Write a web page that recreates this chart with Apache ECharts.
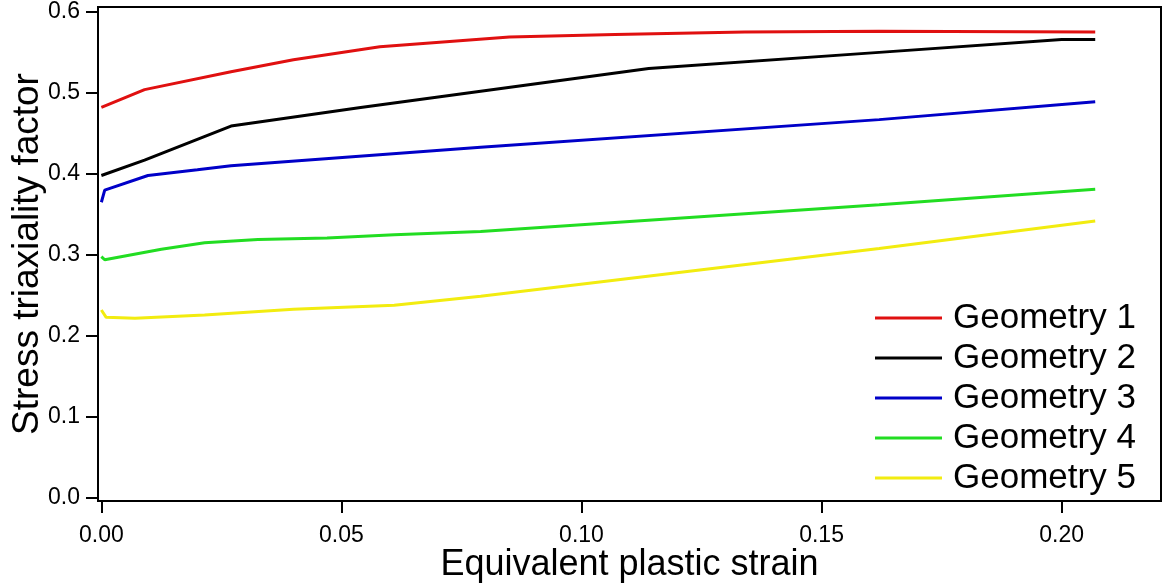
<!DOCTYPE html>
<html>
<head>
<meta charset="utf-8">
<script src="https://cdn.jsdelivr.net/npm/echarts@6/dist/echarts.min.js"></script>
<style>
html,body{margin:0;padding:0;background:#fff;}
#chart{width:1165px;height:583px;}
</style>
</head>
<body>
<div id="chart"></div>
<script>
// ---- data ----
var seriesNames = ['Geometry 1', 'Geometry 2', 'Geometry 3', 'Geometry 4', 'Geometry 5'];

var g1Strain = [0, 0.009, 0.027, 0.040, 0.058, 0.085, 0.107, 0.134, 0.162, 0.207];
var g1Triax  = [0.482, 0.504, 0.526, 0.541, 0.557, 0.569, 0.572, 0.575, 0.576, 0.575];

var g2Strain = [0, 0.009, 0.027, 0.054, 0.079, 0.114, 0.162, 0.200, 0.207];
var g2Triax  = [0.398, 0.417, 0.459, 0.482, 0.502, 0.530, 0.550, 0.566, 0.566];

var g3Strain = [0, 0.0007, 0.0097, 0.020, 0.027, 0.079, 0.162, 0.207];
var g3Triax  = [0.365, 0.380, 0.398, 0.405, 0.410, 0.433, 0.467, 0.489];

var g4Strain = [0, 0.0007, 0.0125, 0.0215, 0.0326, 0.047, 0.061, 0.079, 0.162, 0.207];
var g4Triax  = [0.298, 0.294, 0.307, 0.315, 0.319, 0.321, 0.325, 0.329, 0.362, 0.381];

var g5Strain = [0, 0.001, 0.007, 0.0215, 0.040, 0.061, 0.079, 0.162, 0.207];
var g5Triax  = [0.232, 0.223, 0.222, 0.226, 0.233, 0.238, 0.249, 0.308, 0.342];

var yTicks = [0, 0.1, 0.2, 0.3, 0.4, 0.5, 0.6];
var xTicks = [0, 0.05, 0.10, 0.15, 0.20];

var colors = ['#e01010', '#000000', '#0000c8', '#22dd22', '#f2ec10'];

function pairs(xs, ys) { return xs.map(function (x, i) { return [x, ys[i]]; }); }
var allData = [
  pairs(g1Strain, g1Triax),
  pairs(g2Strain, g2Triax),
  pairs(g3Strain, g3Triax),
  pairs(g4Strain, g4Triax),
  pairs(g5Strain, g5Triax)
];

var font = 'Liberation Sans, Arial, Helvetica, sans-serif';

var chart = echarts.init(document.getElementById('chart'), null, {renderer: 'canvas'});
chart.setOption({
  animation: false,
  backgroundColor: '#fff',
  grid: {
    left: 98, right: 4, top: 7, bottom: 82,
    containLabel: false,
    outerBoundsMode: 'none',
    show: true, borderColor: '#000', borderWidth: 2, backgroundColor: 'transparent'
  },
  legend: {
    orient: 'vertical',
    left: 870, top: 293,
    icon: 'rect',
    itemWidth: 67, itemHeight: 3,
    itemGap: 0,
    data: seriesNames,
    textStyle: {
      fontFamily: font, fontSize: 35, color: '#000',
      lineHeight: 40, padding: [0, 0, 0, 6]
    }
  },
  xAxis: {
    type: 'value',
    min: -0.0007, max: 0.2207,
    name: 'Equivalent plastic strain',
    nameLocation: 'middle',
    nameGap: 46,
    nameMoveOverlap: false,
    nameTextStyle: {fontFamily: font, fontSize: 36, color: '#000'},
    axisLine: {show: true, onZero: false, lineStyle: {color: '#000', width: 2}},
    axisTick: {show: true, inside: false, length: 12, lineStyle: {color: '#000', width: 2}, customValues: xTicks},
    axisLabel: {
      fontFamily: font, fontSize: 23, color: '#000', margin: 23,
      customValues: xTicks,
      formatter: function (v) { return v.toFixed(2); }
    },
    splitLine: {show: false}
  },
  yAxis: {
    type: 'value',
    min: -0.0037, max: 0.606,
    name: 'Stress triaxiality factor',
    nameLocation: 'middle',
    nameGap: 52,
    nameMoveOverlap: false,
    nameTextStyle: {fontFamily: font, fontSize: 37, color: '#000'},
    axisLine: {show: true, onZero: false, lineStyle: {color: '#000', width: 2}},
    axisTick: {show: true, inside: false, length: 12, lineStyle: {color: '#000', width: 2}, customValues: yTicks},
    axisLabel: {
      fontFamily: font, fontSize: 23, color: '#000', margin: 18,
      customValues: yTicks,
      formatter: function (v) { return v.toFixed(1); }
    },
    splitLine: {show: false}
  },
  series: seriesNames.map(function (n, i) {
    return {
      name: n,
      type: 'line',
      data: allData[i],
      showSymbol: false,
      symbol: 'none',
      color: colors[i],
      lineStyle: {color: colors[i], width: 3},
      itemStyle: {color: colors[i]},
      z: 10 - i
    };
  })
});
</script>
</body>
</html>
